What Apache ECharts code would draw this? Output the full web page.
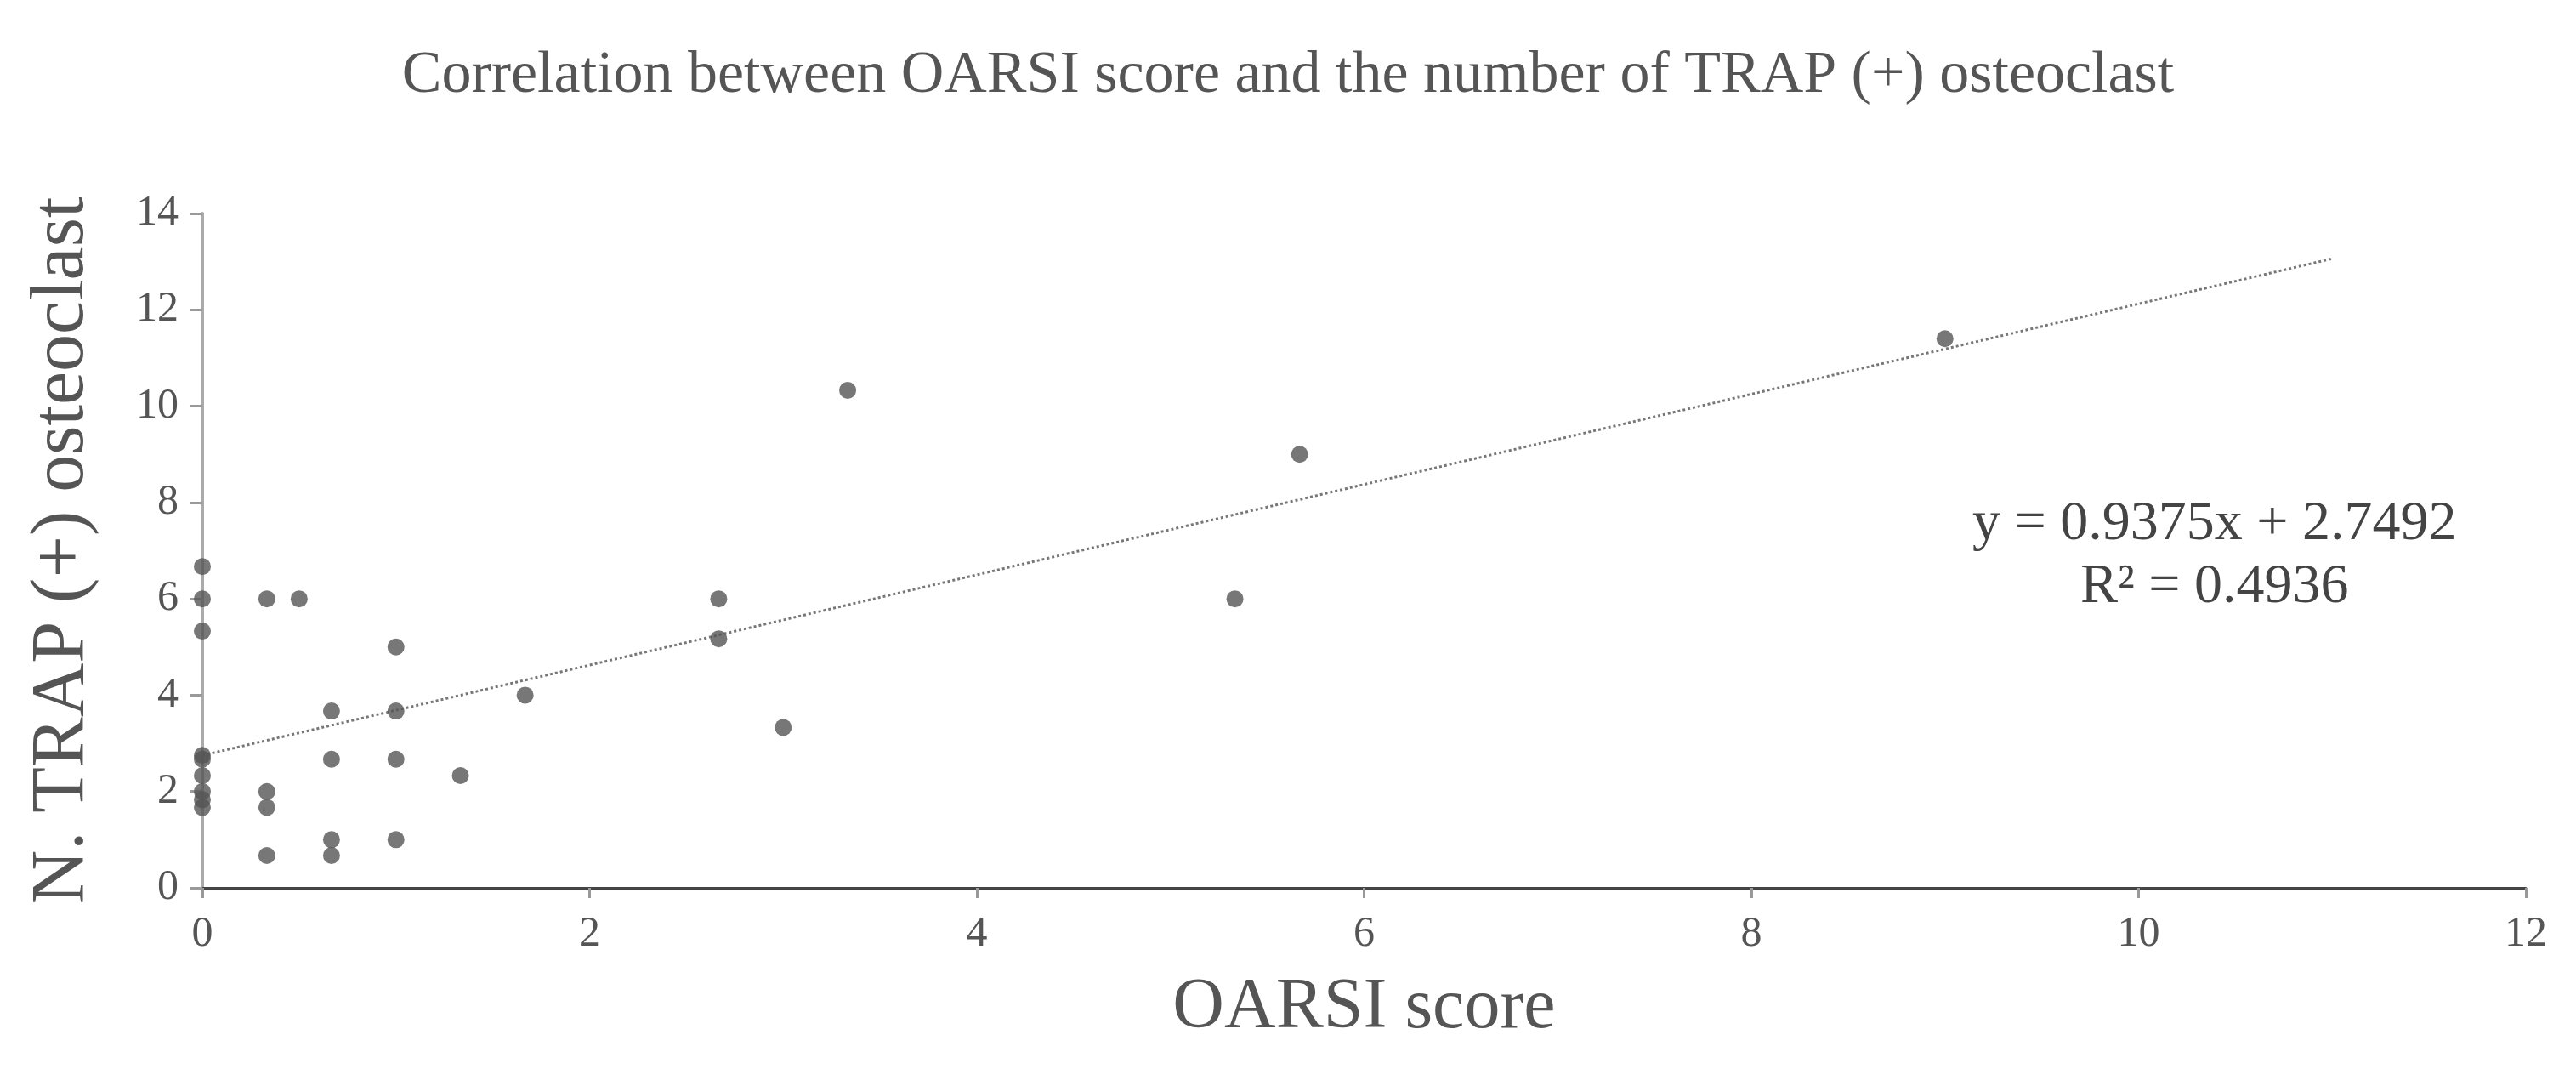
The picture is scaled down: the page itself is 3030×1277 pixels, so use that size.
<!DOCTYPE html>
<html><head><meta charset="utf-8">
<script src="https://cdn.jsdelivr.net/npm/echarts@6/dist/echarts.min.js"></script>
<style>html,body{margin:0;padding:0;background:#fff}#c{width:3030px;height:1277px}</style>
</head><body><div id="c"></div>
<script>
const xValues=[0,0,0,0,0,0,0,0,0, 0.333,0.333,0.333,0.333, 0.5, 0.667,0.667,0.667,0.667, 1,1,1,1, 1.333,1.667, 2.667,2.667,3,3.333,5.333,5.667,9];
const yValues=[6.67,6,5.33,2.75,2.67,2.33,2,1.83,1.67, 6,2,1.67,0.67, 6, 3.67,2.67,1,0.67, 5,3.67,2.67,1, 2.33,4, 6,5.17,3.33,10.33,6,9,11.4];
const slope=0.9375, intercept=2.7492;
const trendX=[0,11];
const F='"Liberation Serif","DejaVu Serif",serif';
const C='#555';
const chart=echarts.init(document.getElementById('c'));
chart.setOption({
 animation:false,
 title:{text:'Correlation between OARSI score and the number of TRAP (+) osteoclast',left:'center',top:50,textStyle:{fontFamily:F,fontSize:70,fontWeight:'normal',color:C}},
 grid:{left:238,right:59,top:251,bottom:233},
 xAxis:{type:'value',min:0,max:12,interval:2,name:'OARSI score',nameLocation:'middle',nameGap:100,
  nameTextStyle:{fontFamily:F,fontSize:84,color:C},
  axisLine:{lineStyle:{color:'#444',width:3}},axisTick:{show:true,length:12,lineStyle:{color:'#999',width:3}},
  axisLabel:{fontFamily:F,fontSize:50,color:C,margin:30},splitLine:{show:false}},
 yAxis:{type:'value',min:0,max:14,interval:2,name:'N. TRAP (+) osteoclast',nameLocation:'middle',nameGap:120,
  nameTextStyle:{fontFamily:F,fontSize:88,color:C},
  axisLine:{show:true,lineStyle:{color:'#aaa',width:4}},axisTick:{show:true,length:14,lineStyle:{color:'#999',width:3}},
  axisLabel:{fontFamily:F,fontSize:50,color:C,margin:28},splitLine:{show:false}},
 series:[
  {type:'scatter',data:xValues.map((x,i)=>[x,yValues[i]]),symbolSize:20,itemStyle:{color:'#555'},z:3},
  {type:'line',data:trendX.map(x=>[x,slope*x+intercept]),symbol:'none',lineStyle:{type:[3,3],width:3,color:'#777'},z:2}
 ],
 graphic:[{type:'text',left:2320,top:580,style:{text:'y = 0.9375x + 2.7492\nR² = 0.4936',align:'center',textAlign:'center',font:'66px '+F,fill:'#444',lineHeight:74}}]
});
</script></body></html>
